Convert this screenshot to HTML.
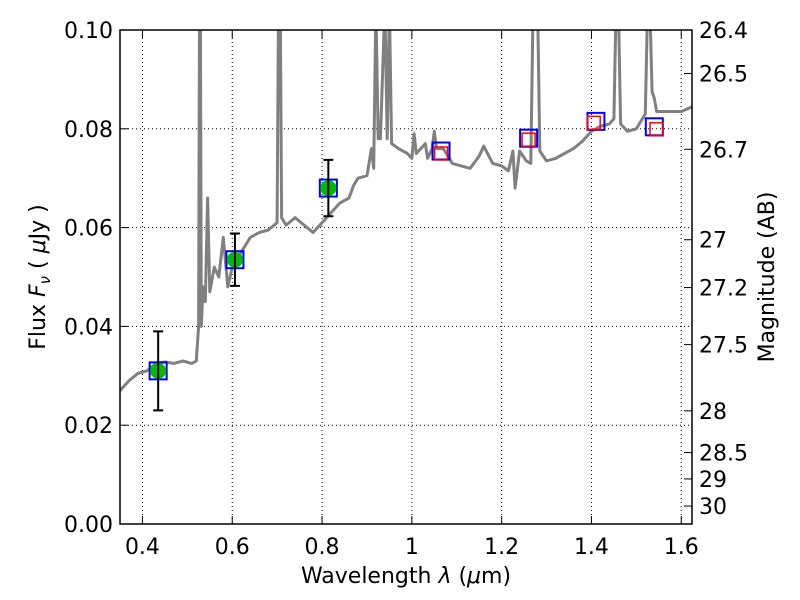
<!DOCTYPE html>
<html><head><meta charset="utf-8"><style>
body{margin:0;background:#fff}
svg{display:block;font-family:"DejaVu Sans","Liberation Sans",sans-serif}
</style></head><body>
<svg id="chart" width="800" height="600" viewBox="0 0 800 600" xmlns="http://www.w3.org/2000/svg">
<defs><clipPath id="clip"><rect x="120" y="30" width="572" height="494"/></clipPath></defs>
<rect x="0" y="0" width="800" height="600" fill="#fff"/>
<g id="grid"></g>
<g id="series" clip-path="url(#clip)"></g>
<rect x="120" y="30" width="572" height="494" fill="none" stroke="#000" stroke-width="1.5"/>
<g id="axes"></g>
<text x="406" y="583" font-size="22" text-anchor="middle">Wavelength  <tspan font-style="italic">λ</tspan> (<tspan font-style="italic">μ</tspan>m)</text>
<text transform="translate(45,277) rotate(-90)" font-size="22" text-anchor="middle">Flux  <tspan font-style="italic">F</tspan><tspan font-style="italic" font-size="15" dy="5">ν</tspan><tspan dy="-5">  ( </tspan><tspan font-style="italic">μ</tspan>Jy )</text>
<text transform="translate(774,277) rotate(-90)" font-size="22" text-anchor="middle">Magnitude (AB)</text>
</svg>
<script>
const xTicks=[0.4,0.6,0.8,1.0,1.2,1.4,1.6];
const xTickLabels=["0.4","0.6","0.8","1","1.2","1.4","1.6"];
const yTicks=[0,0.02,0.04,0.06,0.08,0.10];
const yTickLabels=["0.00","0.02","0.04","0.06","0.08","0.10"];
const magTicks=[26.4,26.5,26.7,27,27.2,27.5,28,28.5,29,30];
const magLabels=["26.4","26.5","26.7","27","27.2","27.5","28","28.5","29","30"];
const specWave=[0.35,0.37,0.39,0.41,0.43,0.45,0.47,0.49,0.51,0.52,0.525,0.527,0.529,0.531,0.535,0.54,0.545,0.55,0.56,0.57,0.58,0.59,0.60,0.62,0.64,0.66,0.68,0.70,0.703,0.707,0.71,0.72,0.74,0.76,0.78,0.80,0.82,0.84,0.86,0.87,0.88,0.90,0.91,0.915,0.92,0.925,0.93,0.94,0.945,0.95,0.955,0.97,0.99,1.00,1.005,1.01,1.03,1.035,1.045,1.05,1.055,1.07,1.09,1.11,1.13,1.15,1.16,1.18,1.20,1.215,1.225,1.23,1.24,1.255,1.265,1.27,1.28,1.285,1.30,1.32,1.34,1.36,1.38,1.40,1.42,1.44,1.45,1.455,1.46,1.465,1.48,1.50,1.52,1.525,1.53,1.535,1.54,1.545,1.56,1.58,1.60,1.625];
const specFlux=[0.027,0.029,0.0305,0.031,0.0325,0.0328,0.0325,0.033,0.0325,0.033,0.040,0.105,0.105,0.040,0.048,0.045,0.066,0.047,0.052,0.050,0.058,0.048,0.052,0.055,0.058,0.059,0.0595,0.061,0.105,0.105,0.062,0.0605,0.062,0.0605,0.059,0.061,0.063,0.065,0.066,0.0685,0.070,0.0705,0.076,0.072,0.105,0.078,0.078,0.105,0.078,0.105,0.077,0.076,0.075,0.074,0.079,0.075,0.077,0.074,0.076,0.0795,0.076,0.076,0.073,0.0725,0.072,0.0745,0.0765,0.073,0.0725,0.0715,0.0755,0.068,0.0755,0.0735,0.073,0.105,0.105,0.0755,0.0735,0.074,0.075,0.076,0.0775,0.0795,0.0805,0.081,0.082,0.105,0.105,0.081,0.0795,0.080,0.083,0.105,0.105,0.0875,0.0862,0.0835,0.0835,0.0835,0.0835,0.0845];
const photWave=[0.435,0.606,0.814];
const photFlux=[0.031,0.0535,0.068];
const photErr=[0.008,0.0053,0.0057];
const modelWave=[0.435,0.606,0.814,1.065,1.26,1.41,1.54];
const modelFlux=[0.031,0.0535,0.068,0.0755,0.0781,0.0815,0.0804];
const predWave=[1.065,1.26,1.405,1.545];
const predFlux=[0.075,0.0778,0.0812,0.0799];

const X=l=>120+(l-0.35)*449;
const Y=f=>524-f*4940;
const M=m=>Y(Math.pow(10,(23.9-m)/2.5));
const NS="http://www.w3.org/2000/svg";
function mk(parent,tag,attrs){const e=document.createElementNS(NS,tag);for(const k in attrs)e.setAttribute(k,attrs[k]);parent.appendChild(e);return e;}
const grid=document.getElementById('grid'),axes=document.getElementById('axes'),series=document.getElementById('series');
xTicks.forEach((t,i)=>{
  const g=mk(grid,'line',{x1:X(t),x2:X(t),y1:30,y2:524,stroke:'#000','stroke-width':1,'stroke-dasharray':'1,3'});
  
  
  mk(axes,'line',{x1:X(t),x2:X(t),y1:524,y2:516,stroke:'#000'});
  mk(axes,'line',{x1:X(t),x2:X(t),y1:30,y2:38,stroke:'#000'});
  const tx=mk(axes,'text',{x:X(t),y:554,'font-size':22,'text-anchor':'middle'});
  tx.textContent=xTickLabels[i];
  
  
});
yTicks.forEach((t,i)=>{
  const g=mk(grid,'line',{x1:120,x2:692,y1:Y(t),y2:Y(t),stroke:'#000','stroke-width':1,'stroke-dasharray':'1,3'});
  
  
  mk(axes,'line',{x1:120,x2:128,y1:Y(t),y2:Y(t),stroke:'#000'});
  const tx=mk(axes,'text',{x:113,y:Y(t)+8,'font-size':22,'text-anchor':'end'});
  tx.textContent=yTickLabels[i];
  
  
});
magTicks.forEach((m,i)=>{
  const y=M(m);
  mk(axes,'line',{x1:684,x2:692,y1:y,y2:y,stroke:'#000'});
  const tx=mk(axes,'text',{x:699,y:y+8,'font-size':22});
  tx.textContent=magLabels[i];
  
  
});
const pts=specWave.map((w,i)=>X(w).toFixed(1)+','+Y(specFlux[i]).toFixed(1)).join(' ');
const sp=mk(series,'polyline',{points:pts,fill:'none',stroke:'#808080','stroke-width':3,'stroke-linejoin':'round'});


modelWave.forEach((w,i)=>{
  const r=mk(series,'rect',{x:X(w)-8.5,y:Y(modelFlux[i])-8.5,width:17,height:17,fill:'none',stroke:'#0000ff','stroke-width':2});
  
  
});
predWave.forEach((w,i)=>{
  const r=mk(series,'rect',{x:X(w)-6.5,y:Y(predFlux[i])-6.5,width:13,height:13,fill:'none',stroke:'#ff0000','stroke-width':1.5});
  
  
});
photWave.forEach((w,i)=>{
  const c=mk(series,'circle',{cx:X(w),cy:Y(photFlux[i]),r:8,fill:'#00bb00'});
  
  
  const x=X(w),y1=Y(photFlux[i]-photErr[i]),y2=Y(photFlux[i]+photErr[i]);
  const e=mk(series,'path',{d:`M${x},${y1}V${y2}M${x-5},${y1}H${x+5}M${x-5},${y2}H${x+5}`,stroke:'#000','stroke-width':2,fill:'none'});
  
  
});
</script>
</body></html>
